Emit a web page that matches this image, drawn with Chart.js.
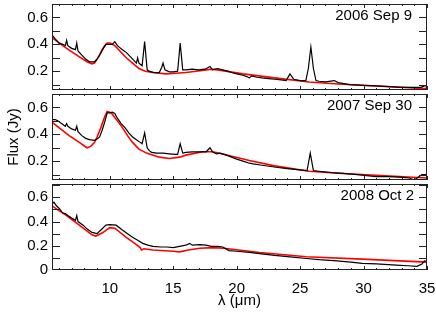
<!DOCTYPE html>
<html>
<head>
<meta charset="utf-8">
<script src="https://cdn.jsdelivr.net/npm/chart.js@4"></script>
<style>
  body { margin: 0; background: #fff; }
  #wrap { position: relative; width: 436px; height: 312px; }
  canvas { position: absolute; left: 0; top: 0; }
</style>
</head>
<body>
<div id="wrap">
  <canvas id="p1" width="436" height="312"></canvas>
  <canvas id="p2" width="436" height="312"></canvas>
  <canvas id="p3" width="436" height="312"></canvas>
</div>
<script>
// epoch labels
const epochs = ['2006 Sep 9', '2007 Sep 30', '2008 Oct 2'];

// tick labels
const xTickLabels = [10, 15, 20, 25, 30, 35];
const yTickLabels = [0.2, 0.4, 0.6];
const yTickLabelsBottom = [0, 0.2, 0.4, 0.6];

// 2006 Sep 9 - observed spectrum
const wlObs1 = [5.45, 5.7, 6.0, 6.3, 6.5, 6.6, 6.7, 7.0, 7.3, 7.4, 7.5, 7.8, 8.1, 8.4, 8.8, 9.0, 9.2, 9.5, 9.7, 9.9,
  10.2, 10.4, 10.6, 11.0, 11.3, 11.6, 11.9, 12.1, 12.2, 12.3, 12.55, 12.75, 12.95, 13.1, 13.5, 13.9, 14.1, 14.2, 14.35, 14.7,
  15.0, 15.35, 15.55, 15.75, 16.0, 16.5, 17.0, 17.5, 17.9, 18.1, 18.5, 18.9, 19.3, 19.6, 20.0, 20.5, 20.8, 21.0, 21.2, 21.6,
  22.0, 22.5, 23.0, 23.5, 23.9, 24.2, 24.5, 25.0, 25.45, 25.65, 25.85, 26.05, 26.25, 26.5, 27.0, 27.7, 28.0, 28.9, 30.0, 31.0,
  32.0, 33.0, 34.0, 34.5, 34.8, 35.0];
const fluxObs1 = [0.47, 0.44, 0.41, 0.40, 0.39, 0.43, 0.39, 0.37, 0.36, 0.41, 0.35, 0.32, 0.29, 0.27, 0.27, 0.29, 0.32, 0.37, 0.40, 0.40,
  0.40, 0.42, 0.39, 0.36, 0.34, 0.31, 0.28, 0.26, 0.30, 0.26, 0.24, 0.42, 0.21, 0.20, 0.19, 0.19, 0.23, 0.26, 0.21, 0.195,
  0.195, 0.20, 0.41, 0.21, 0.21, 0.215, 0.21, 0.215, 0.235, 0.21, 0.22, 0.21, 0.20, 0.19, 0.18, 0.17, 0.16, 0.15, 0.165, 0.155,
  0.15, 0.145, 0.14, 0.135, 0.13, 0.18, 0.14, 0.13, 0.13, 0.22, 0.38, 0.22, 0.13, 0.125, 0.12, 0.13, 0.115, 0.10, 0.095, 0.09,
  0.085, 0.08, 0.08, 0.08, 0.09, 0.09];
// 2006 Sep 9 - model
const wlMod1 = [5.45, 6.0, 6.6, 7.4, 8.2, 8.6, 8.8, 9.0, 9.2, 9.4, 9.6, 9.8, 10.0, 10.4, 10.8, 11.3, 11.8, 12.3, 12.8, 13.4,
  14.4, 15.2, 16.0, 16.8, 17.6, 18.0, 18.5, 20.5, 23.0, 25.7, 28.0, 31.0, 35.0];
const fluxMod1 = [0.45, 0.41, 0.37, 0.32, 0.27, 0.255, 0.26, 0.29, 0.32, 0.36, 0.39, 0.41, 0.41, 0.39, 0.35, 0.30, 0.26, 0.22, 0.20, 0.19,
  0.18, 0.185, 0.19, 0.20, 0.21, 0.215, 0.21, 0.18, 0.15, 0.12, 0.105, 0.09, 0.07];

// 2007 Sep 30 - observed spectrum
const wlObs2 = [5.45, 5.7, 5.9, 6.2, 6.5, 6.6, 6.7, 7.0, 7.3, 7.4, 7.5, 7.8, 8.1, 8.4, 8.8, 9.0, 9.2, 9.4, 9.6, 9.8,
  10.0, 10.2, 10.4, 10.6, 10.9, 11.2, 11.5, 11.8, 12.1, 12.4, 12.55, 12.75, 12.95, 13.1, 13.3, 13.7, 14.2, 14.7, 15.2, 15.35,
  15.55, 15.75, 16.0, 16.5, 17.0, 17.6, 17.9, 18.1, 18.4, 18.7, 19.2, 19.6, 20.0, 20.5, 21.0, 21.3, 22.0, 23.1, 24.0, 25.0,
  25.55, 25.8, 26.05, 26.5, 27.5, 28.4, 29.5, 31.0, 32.0, 33.1, 33.6, 34.0, 34.3, 34.6, 35.0];
const fluxObs2 = [0.51, 0.51, 0.50, 0.48, 0.46, 0.48, 0.46, 0.44, 0.43, 0.46, 0.42, 0.39, 0.37, 0.36, 0.355, 0.365, 0.38, 0.43, 0.49, 0.56,
  0.56, 0.565, 0.555, 0.52, 0.48, 0.45, 0.41, 0.38, 0.36, 0.34, 0.33, 0.41, 0.30, 0.28, 0.265, 0.26, 0.26, 0.255, 0.25, 0.25,
  0.33, 0.26, 0.265, 0.27, 0.27, 0.27, 0.30, 0.27, 0.255, 0.26, 0.245, 0.23, 0.215, 0.20, 0.185, 0.18, 0.17, 0.155, 0.145, 0.135,
  0.13, 0.26, 0.13, 0.125, 0.115, 0.11, 0.10, 0.085, 0.085, 0.08, 0.075, 0.06, 0.08, 0.10, 0.10];
// 2007 Sep 30 - model
const wlMod2 = [5.45, 6.0, 6.8, 7.6, 8.2, 8.5, 8.8, 9.0, 9.3, 9.6, 9.8, 10.0, 10.2, 10.6, 11.0, 11.4, 11.8, 12.3, 12.9, 13.9,
  14.7, 15.5, 16.0, 17.3, 18.0, 18.4, 21.0, 23.0, 25.7, 28.0, 31.0, 35.0];
const fluxMod2 = [0.49, 0.45, 0.39, 0.34, 0.30, 0.31, 0.34, 0.38, 0.45, 0.53, 0.57, 0.565, 0.55, 0.50, 0.45, 0.39, 0.34, 0.29, 0.26, 0.23,
  0.22, 0.23, 0.245, 0.27, 0.27, 0.265, 0.205, 0.165, 0.125, 0.11, 0.095, 0.075];

// 2008 Oct 2 - observed spectrum
const wlObs3 = [5.45, 5.6, 5.8, 6.0, 6.3, 6.5, 6.7, 7.0, 7.3, 7.4, 7.5, 7.9, 8.2, 8.6, 9.0, 9.3, 9.7, 10.0, 10.5, 11.0,
  11.4, 11.8, 12.2, 12.6, 13.0, 13.4, 14.0, 14.5, 15.0, 15.5, 16.0, 16.3, 16.5, 17.1, 17.6, 18.0, 18.5, 18.9, 19.4, 20.0,
  21.0, 21.8, 23.0, 24.0, 25.5, 26.5, 27.9, 29.0, 29.9, 31.0, 32.6, 33.5, 34.2, 34.6, 34.8, 35.0];
const fluxObs3 = [0.55, 0.56, 0.53, 0.51, 0.47, 0.465, 0.45, 0.43, 0.41, 0.45, 0.40, 0.37, 0.34, 0.31, 0.30, 0.33, 0.37, 0.375, 0.37, 0.33,
  0.30, 0.27, 0.245, 0.22, 0.205, 0.195, 0.19, 0.19, 0.185, 0.195, 0.205, 0.22, 0.205, 0.21, 0.205, 0.195, 0.195, 0.19, 0.16, 0.155,
  0.145, 0.135, 0.12, 0.11, 0.095, 0.085, 0.075, 0.065, 0.055, 0.05, 0.04, 0.035, 0.03, 0.05, 0.075, 0.07];
// 2008 Oct 2 - model
const wlMod3 = [5.45, 6.0, 6.6, 7.6, 8.6, 8.9, 9.4, 10.0, 10.4, 11.3, 12.1, 12.4, 12.5, 12.7, 13.4, 15.0, 15.5, 16.2, 17.1, 18.1,
  19.0, 21.8, 25.5, 29.9, 35.0];
const fluxMod3 = [0.53, 0.49, 0.45, 0.37, 0.29, 0.28, 0.305, 0.35, 0.345, 0.27, 0.21, 0.185, 0.165, 0.175, 0.165, 0.155, 0.15, 0.165, 0.18, 0.185,
  0.18, 0.145, 0.11, 0.09, 0.065];

Chart.defaults.font.family = '"Liberation Sans", Arial, sans-serif';
Chart.defaults.font.size = 15;
Chart.defaults.color = '#000';

const pts = (xs, ys) => xs.map((x, i) => ({ x: x, y: ys[i] }));

// draws the box, the inward ticks and the epoch label
const frameTicks = {
  id: 'frameTicks',
  afterDraw(chart, args, opts) {
    const { ctx, chartArea: a, scales: { x, y } } = chart;
    ctx.save();
    ctx.strokeStyle = '#222';
    ctx.lineWidth = 1;
    ctx.strokeRect(a.left + 0.5, a.top + 0.5, a.right - a.left - 1, a.bottom - a.top - 1);
    ctx.beginPath();
    for (let w = 6; w <= 35; w++) {
      const px = Math.round(x.getPixelForValue(w)) + 0.5;
      const len = w % 5 ? 2 : 4;
      ctx.moveTo(px, a.bottom); ctx.lineTo(px, a.bottom - len);
      ctx.moveTo(px, a.top); ctx.lineTo(px, a.top + len);
    }
    for (let k = Math.ceil(y.min * 10 + 0.01); k <= Math.floor(y.max * 10 - 0.01); k++) {
      const py = Math.round(y.getPixelForValue(k / 10)) + 0.5;
      ctx.moveTo(a.left, py); ctx.lineTo(a.left + 8, py);
      ctx.moveTo(a.right, py); ctx.lineTo(a.right - 8, py);
    }
    ctx.stroke();
    ctx.fillStyle = '#000';
    ctx.font = '15px "Liberation Sans", Arial, sans-serif';
    ctx.textAlign = 'right';
    ctx.fillText(opts.text, opts.right, a.top + 16);
    ctx.restore();
  }
};

function makePanel(id, obs, mod, cfg) {
  new Chart(document.getElementById(id), {
    type: 'line',
    data: {
      datasets: [
        { data: obs, borderColor: '#000', borderWidth: 1.2 },
        { data: mod, borderColor: '#ff0000', borderWidth: 1.6 },
      ],
    },
    options: {
      responsive: false,
      animation: false,
      events: [],
      layout: { padding: { top: cfg.top, bottom: cfg.bottom, left: 0, right: 9 } },
      elements: { point: { radius: 0 }, line: { tension: 0 } },
      plugins: {
        legend: { display: false },
        tooltip: { enabled: false },
        frameTicks: { text: cfg.label, right: cfg.labelRight },
      },
      scales: {
        x: {
          type: 'linear',
          min: 5.45,
          max: 35,
          display: cfg.showX,
          grid: { display: false, drawTicks: false },
          border: { display: false },
          ticks: { padding: 10, maxRotation: 0 },
          title: { display: cfg.showX, text: 'λ (μm)', padding: { top: 0, bottom: 2 } },
          afterBuildTicks: s => { s.ticks = xTickLabels.map(v => ({ value: v })); },
          afterFit: s => {
            s.paddingLeft = 0; s.paddingRight = 0;
            if (cfg.showX) s.height = 42;
          },
        },
        y: {
          min: cfg.yMin,
          max: cfg.yMax,
          grid: { display: false, drawTicks: false },
          border: { display: false },
          ticks: { padding: 4 },
          title: { display: cfg.showTitle, text: 'Flux (Jy)', padding: { top: 5, bottom: 0 } },
          afterBuildTicks: s => { s.ticks = cfg.yTicks.map(v => ({ value: v })); },
          afterFit: s => { s.width = 52; s.paddingTop = 0; s.paddingBottom = 0; },
        },
      },
    },
    plugins: [frameTicks],
  });
}

makePanel('p1', pts(wlObs1, fluxObs1), pts(wlMod1, fluxMod1),
  { top: 4, bottom: 222, showX: false, showTitle: false, yMin: 0.06, yMax: 0.70, yTicks: yTickLabels, label: epochs[0], labelRight: 412 });
makePanel('p2', pts(wlObs2, fluxObs2), pts(wlMod2, fluxMod2),
  { top: 94, bottom: 132, showX: false, showTitle: true, yMin: 0.06, yMax: 0.70, yTicks: yTickLabels, label: epochs[1], labelRight: 412 });
makePanel('p3', pts(wlObs3, fluxObs3), pts(wlMod3, fluxMod3),
  { top: 184, bottom: 0, showX: true, showTitle: false, yMin: 0, yMax: 0.71, yTicks: yTickLabelsBottom, label: epochs[2], labelRight: 414 });
</script>
</body>
</html>
